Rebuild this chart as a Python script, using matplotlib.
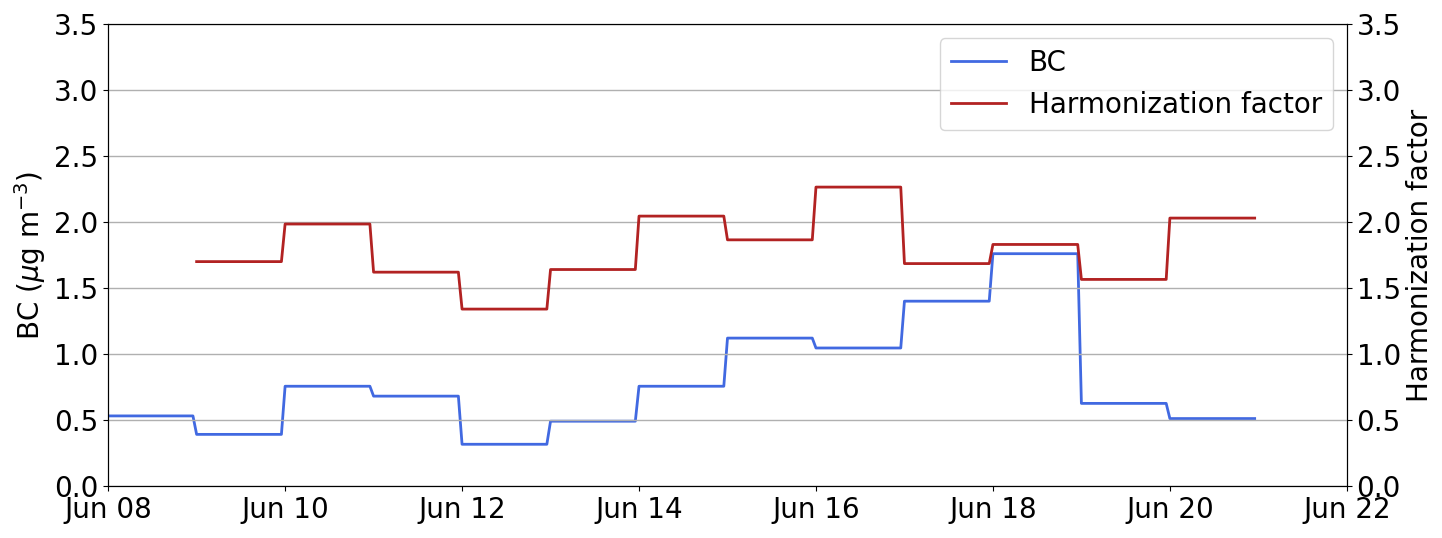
import matplotlib
matplotlib.use("Agg")
import matplotlib.pyplot as plt, matplotlib.dates as mdates, numpy as np, pandas as pd

# daily means, one value per day
bc_days = pd.date_range("2018-06-08", "2018-06-20", freq="D")
bc_daily = [0.53, 0.39, 0.755, 0.68, 0.315, 0.49, 0.755, 1.12, 1.045, 1.40, 1.76, 0.625, 0.51]

hf_days = pd.date_range("2018-06-09", "2018-06-20", freq="D")
hf_daily = [1.70, 1.985, 1.62, 1.34, 1.64, 2.045, 1.865, 2.265, 1.685, 1.83, 1.565, 2.03]

# hourly series (each day holds its daily value)
bc_time = pd.date_range(bc_days[0], periods=24*len(bc_days), freq="h")
bc = np.repeat(bc_daily, 24)
hf_time = pd.date_range(hf_days[0], periods=24*len(hf_days), freq="h")
hf = np.repeat(hf_daily, 24)

plt.rcParams['font.size'] = 20

fig, ax1 = plt.subplots(figsize=(14.42, 5.38), dpi=100)
l1, = ax1.plot(bc_time, bc, color='royalblue', lw=2, label="BC")
ax1.set_ylim(0, 3.5)
ax1.set_ylabel(r"BC ($\mu$g m$^{-3}$)")

ax2 = ax1.twinx()
l2, = ax2.plot(hf_time, hf, color='firebrick', lw=2, label="Harmonization factor")
ax2.set_ylim(0, 3.5)
ax2.set_ylabel("Harmonization factor")
ax2.grid(axis='y', color='#b0b0b0', lw=1)

ax1.set_xlim(pd.Timestamp("2018-06-08"), pd.Timestamp("2018-06-22"))
ax1.xaxis.set_major_locator(mdates.DayLocator(interval=2))
ax1.xaxis.set_major_formatter(mdates.DateFormatter("%b %d"))

ax2.legend(handles=[l1, l2], loc='upper right')

fig.subplots_adjust(left=0.075, right=0.934, top=0.955, bottom=0.097)
fig.savefig("out.png", dpi=100)
